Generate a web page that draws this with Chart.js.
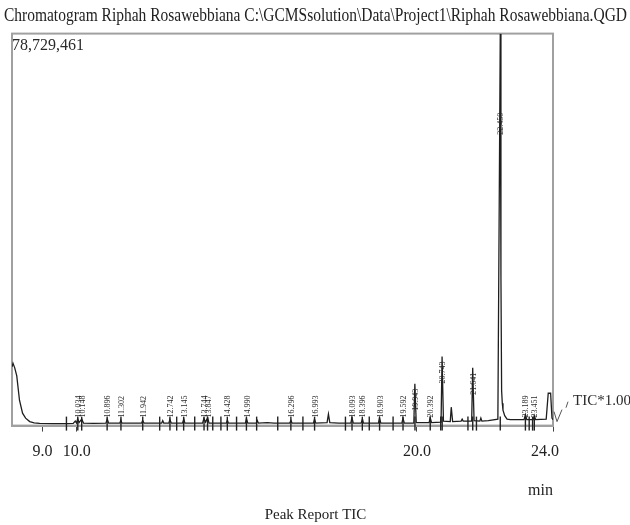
<!DOCTYPE html>
<html>
<head>
<meta charset="utf-8">
<script src="https://cdn.jsdelivr.net/npm/chart.js@4.4.1/dist/chart.umd.min.js"></script>
<style>
  html, body { margin: 0; padding: 0; background: #fff; }
  #wrap { width: 630px; height: 525px; }
</style>
</head>
<body>
<div id="wrap"><canvas id="gcChart" width="630" height="525"></canvas></div>
<script>
// TIC trace (time in min, intensity in millions of counts)
const traceTime = [
  8.10, 8.13, 8.18, 8.24, 8.32, 8.41, 8.50, 8.62, 8.75, 8.91, 9.30, 9.70,
  9.90, 9.96, 10.00, 10.03, 10.07, 10.15, 10.20, 10.50, 10.86, 10.90, 10.94,
  11.27, 11.30, 11.33, 11.60, 11.91, 11.94, 11.98, 12.50, 12.53, 12.56,
  12.71, 12.74, 12.78, 13.11, 13.15, 13.18, 13.70, 13.74, 13.79, 13.85, 13.89,
  14.40, 14.43, 14.46, 14.96, 14.99, 15.03, 15.28, 15.31, 15.34, 15.60, 15.80,
  16.26, 16.30, 16.33, 16.96, 16.99, 17.03, 17.36, 17.40, 17.44, 17.70,
  18.06, 18.09, 18.13, 18.36, 18.40, 18.43, 18.87, 18.90, 18.94,
  19.56, 19.59, 19.63, 19.91, 19.94, 19.98, 20.36, 20.39, 20.43,
  20.71, 20.74, 20.78, 20.98, 21.01, 21.05, 21.30, 21.33, 21.36,
  21.61, 21.64, 21.68, 21.85, 21.88, 21.91, 22.10, 22.38,
  22.42, 22.45, 22.47, 22.49, 22.51, 22.53, 22.58, 22.65, 22.75, 22.90,
  23.15, 23.19, 23.23, 23.42, 23.45, 23.49, 23.80, 23.86, 23.93, 23.97, 24.00
];
const ticMillions = [
  11.8, 12.5, 11.6, 10.0, 5.1, 2.5, 1.5, 0.8, 0.55, 0.45, 0.4, 0.4,
  0.45, 0.9, 0.5, 1.4, 0.6, 1.3, 0.5, 0.45, 0.5, 1.3, 0.5,
  0.5, 1.1, 0.5, 0.5, 0.5, 1.0, 0.5, 0.5, 1.0, 0.5,
  0.5, 1.2, 0.5, 0.5, 1.3, 0.5, 0.5, 1.4, 0.7, 1.6, 0.5,
  0.5, 1.1, 0.5, 0.5, 1.4, 0.5, 0.5, 1.0, 0.5, 0.6, 0.5,
  0.5, 1.0, 0.5, 0.5, 1.3, 0.5, 0.6, 2.3, 0.6, 0.5,
  0.5, 1.6, 0.5, 0.5, 1.3, 0.5, 0.5, 1.5, 0.5,
  0.5, 1.5, 0.5, 0.5, 8.4, 0.6, 0.6, 1.6, 0.6,
  0.7, 13.9, 0.9, 0.8, 3.7, 0.8, 0.9, 1.3, 0.9,
  0.9, 11.6, 1.0, 0.9, 1.5, 0.9, 1.0, 1.3,
  45.0, 78.7, 30.0, 7.0, 4.5, 3.1, 2.0, 1.3, 1.2, 1.2,
  1.2, 2.2, 1.2, 1.2, 2.0, 1.2, 1.3, 6.5, 6.5, 1.5, 1.2
];

// peak report labels (retention times printed next to the peaks)
const peakLabels = [
  '10.034', '10.148', '10.896', '11.302', '11.942', '12.742', '13.145',
  '13.744', '13.847', '14.428', '14.990', '16.296', '16.993', '18.093',
  '18.396', '18.903', '19.592', '19.943', '20.392', '20.743', '21.641',
  '22.450', '23.189', '23.451'
];
// extra integration marks on the baseline (min)
const markTimes = [
  9.70, 12.44, 12.94, 13.47, 14.00, 14.24, 14.70, 15.29, 15.91, 16.65,
  17.90, 18.60, 19.30, 20.70, 21.50, 21.75, 23.30, 23.40
];
const xTicks = [9, 10, 20, 24];
const yMax = 78.729461;
const yMaxLabel = '78,729,461';
const baseLevel = 0.4;

const serif = '"Liberation Serif", "DejaVu Serif", serif';

function peakHeight(t) {
  let best = 0;
  for (let i = 0; i < traceTime.length; i++) {
    if (Math.abs(traceTime[i] - t) <= 0.035 && ticMillions[i] > best) best = ticMillions[i];
  }
  return best;
}

const chromPlugin = {
  id: 'chromPlugin',
  beforeDatasetsDraw(chart) {
    const { ctx, chartArea: a } = chart;
    ctx.save();
    ctx.strokeStyle = '#a0a0a0';
    ctx.lineWidth = 2;
    ctx.strokeRect(a.left, a.top, a.right - a.left, a.bottom - a.top);
    ctx.restore();
  },
  afterDatasetsDraw(chart) {
    const { ctx, chartArea: a, scales } = chart;
    const xs = scales.x, ys = scales.y;
    ctx.save();
    ctx.fillStyle = '#2a2a2a';
    ctx.font = '8px ' + serif;
    ctx.textBaseline = 'middle';
    peakLabels.forEach(lbl => {
      const t = parseFloat(lbl);
      const h = peakHeight(t);
      const px = xs.getPixelForValue(t);
      const topPx = ys.getPixelForValue(h);
      const w = ctx.measureText(lbl).width;
      let cy;
      if (h > 20) cy = ys.getPixelForValue(h * 0.77);
      else if (h > 5) cy = topPx + 16;
      else cy = a.bottom - 8 - w / 2;
      ctx.save();
      ctx.translate(px + 1, cy);
      ctx.rotate(-Math.PI / 2);
      ctx.textAlign = 'center';
      ctx.fillText(lbl, 0, 0);
      ctx.restore();
    });
    ctx.font = '16px ' + serif;
    ctx.textAlign = 'left';
    ctx.fillText(yMaxLabel, a.left, a.top + 12);
    ctx.font = '15px ' + serif;
    ctx.fillText('TIC*1.00', a.right + 20, ys.getPixelForValue(5.0));
    ctx.strokeStyle = '#555';
    ctx.lineWidth = 1;
    ctx.beginPath();
    ctx.moveTo(a.right + 1, a.bottom - 14);
    ctx.lineTo(a.right + 4, a.bottom - 4);
    ctx.lineTo(a.right + 9, a.bottom - 16);
    ctx.moveTo(a.right + 13, ys.getPixelForValue(4.0) + 2);
    ctx.lineTo(a.right + 15, ys.getPixelForValue(4.0) - 4);
    ctx.stroke();
    ctx.restore();
  }
};

const spacer = width => ({
  display: true,
  grid: { display: false },
  border: { display: false },
  ticks: { display: false },
  afterFit: s => { s.width = width; }
});

new Chart(document.getElementById('gcChart'), {
  type: 'line',
  data: {
    datasets: [
      {
        label: 'TIC',
        data: traceTime.map((t, i) => ({ x: t, y: ticMillions[i] })),
        borderColor: '#1e1e1e',
        borderWidth: 1.3,
        pointRadius: 0,
        tension: 0
      },
      {
        label: 'marks',
        data: peakLabels.map(l => parseFloat(l)).concat(markTimes).map(t => ({ x: t, y: baseLevel })),
        showLine: false,
        pointStyle: 'line',
        rotation: 90,
        pointRadius: 7,
        borderColor: '#222',
        borderWidth: 1.4,
        clip: false
      }
    ]
  },
  options: {
    responsive: false,
    animation: false,
    layout: { padding: { left: 4, right: 3, top: 0, bottom: 0 } },
    plugins: {
      legend: { display: false },
      tooltip: { enabled: false },
      title: {
        display: true,
        text: 'Chromatogram Riphah Rosawebbiana C:\\GCMSsolution\\Data\\Project1\\Riphah Rosawebbiana.QGD',
        color: '#222',
        font: { family: serif, size: 18, weight: 'normal' },
        padding: { top: 5, bottom: 7 }
      },
      subtitle: {
        display: true,
        position: 'bottom',
        text: 'Peak Report TIC',
        color: '#222',
        font: { family: serif, size: 15, weight: 'normal' },
        padding: { top: 6, bottom: 1 }
      }
    },
    scales: {
      x: {
        type: 'linear',
        min: 8.1,
        max: 24,
        afterBuildTicks: axis => { axis.ticks = xTicks.map(v => ({ value: v })); },
        grid: { drawOnChartArea: false, drawTicks: true, tickLength: 6, color: '#444' },
        border: { display: true, color: '#a0a0a0', width: 2 },
        ticks: {
          color: '#222',
          padding: 11,
          maxRotation: 0,
          font: { family: serif, size: 16 },
          callback: v => v === 24 ? '24.0    ' : v.toFixed(1)
        },
        title: {
          display: true,
          text: 'min',
          align: 'end',
          color: '#222',
          font: { family: serif, size: 16 },
          padding: { top: 8, bottom: 0 }
        }
      },
      y: Object.assign(spacer(8), { position: 'left', min: 0, max: yMax }),
      yRight: Object.assign(spacer(74), { position: 'right', min: 0, max: 1 })
    }
  },
  plugins: [chromPlugin]
});
</script>
</body>
</html>
